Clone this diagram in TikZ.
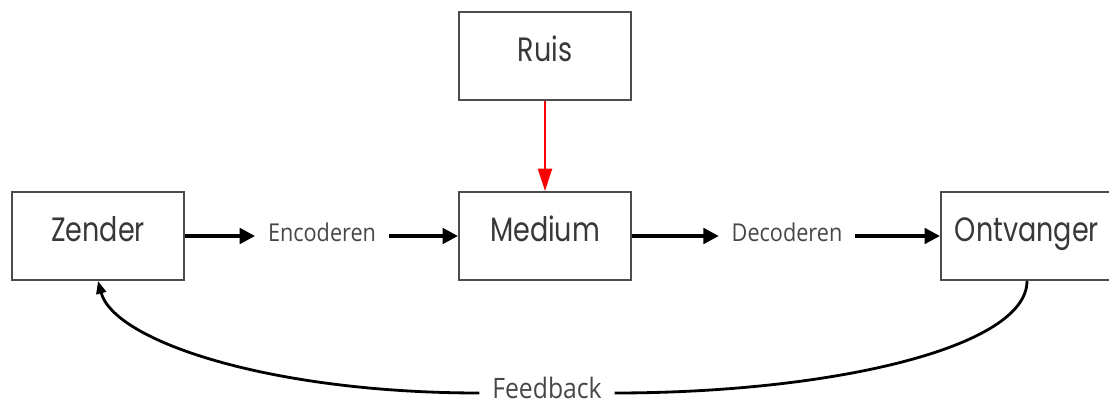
\documentclass[tikz,border=0pt]{standalone}
\usepackage{fontspec}
\setmainfont{Poppins}[FakeStretch=0.8]
\newfontfamily\labelfont{Open Sans}[FakeStretch=0.88]
\usetikzlibrary{arrows.meta}

\begin{document}
\begin{tikzpicture}[x=0.025cm,y=-0.025cm]
\tikzstyle{box}=[rectangle,draw=black!70,line width=1.4pt,minimum width=4.3cm,minimum height=2.2cm,text=black!78,text height=0.9em,text depth=0.15em,font=\fontsize{24}{28}\selectfont]
\tikzstyle{lbl}=[inner sep=9pt,text=black!72,text height=0.85em,text depth=0.1em,font=\labelfont\fontsize{17.5}{21}\selectfont]
\tikzstyle{arr}=[line width=2.6pt,-{Triangle[length=11pt,width=11pt]}]
\useasboundingbox (0,0) rectangle (1109,405);
\node[box] (R) at (545,56) {Ruis};
\node[box] (Z) at (98,236) {Zender};
\node[box] (M) at (545,236) {Medium};
\node[box] (O) at (1027,236) {Ontvanger};
\node[lbl] (E) at (322,236) {Encoderen};
\node[lbl] (D) at (787,236) {Decoderen};
\node[lbl,font=\labelfont\fontsize{20}{24}\selectfont] (F) at (547,393) {Feedback};
\draw[arr] (Z) -- (E);
\draw[arr] (E) -- (M);
\draw[arr] (M) -- (D);
\draw[arr] (D) -- (O);
\draw[red,line width=1.5pt,-{Triangle[length=16pt,width=10pt]}] (R) -- (M);
\draw[line width=2pt] (O.south) to[out=-90,in=0,out looseness=0.4,in looseness=1.3] (F.east);
\draw[line width=2pt,-{Triangle[length=9pt,width=7pt]}] (F.west) to[out=180,in=-75,out looseness=1.35,in looseness=0.4] (Z.south);
\end{tikzpicture}
\end{document}
